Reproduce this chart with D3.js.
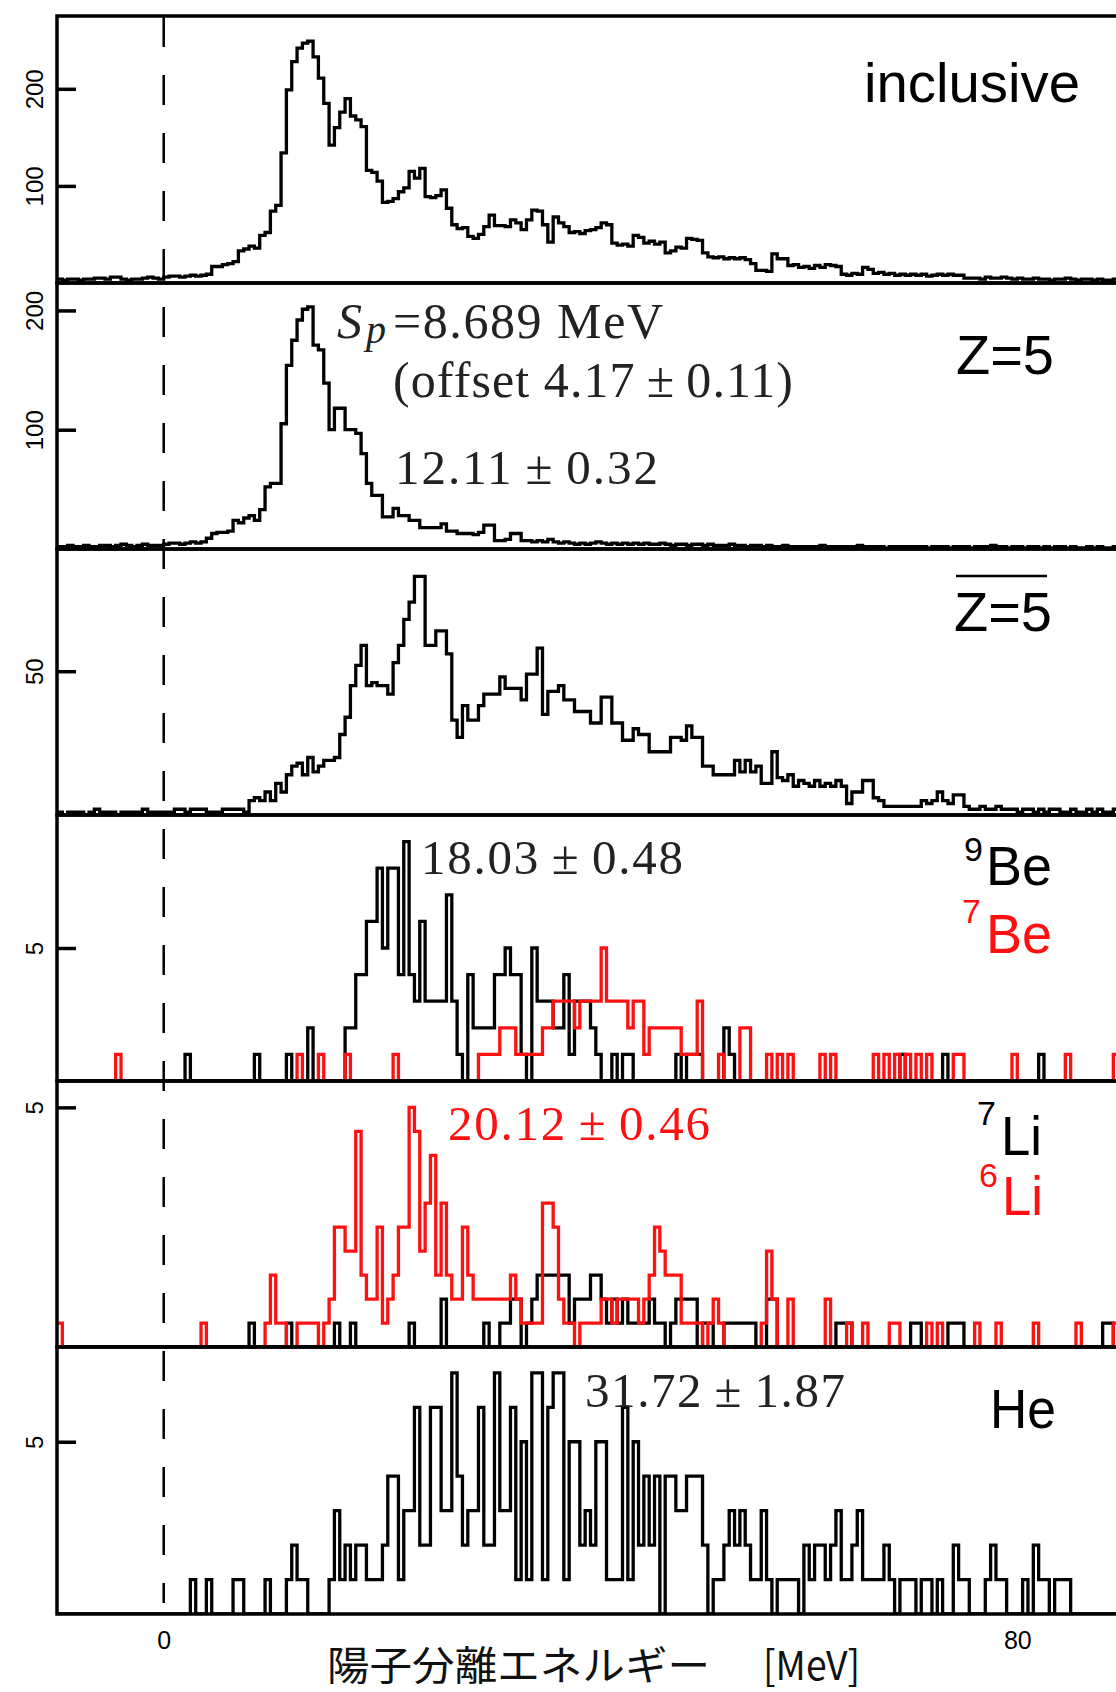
<!DOCTYPE html>
<html>
<head>
<meta charset="utf-8">
<script src="https://cdn.jsdelivr.net/npm/d3@7"></script>
<style>
  html, body { margin: 0; padding: 0; background: #fff; }
  svg { display: block; }
</style>
</head>
<body>
<svg id="chart" width="1116" height="1692"></svg>
<script>
// Proton separation energy spectra, 0.5 MeV bins starting at -10 MeV.
const eMin = -10;
const binWidth = 0.5;

const inclusive = [
  4,3,4,4,3,4,4,5,5,4,6,6,4,3,4,4,5,6,5,4,
  6,7,7,6,7,8,7,8,9,17,17,19,20,22,33,35,38,36,49,52,
  74,80,134,199,228,242,247,249,233,211,185,142,160,176,190,172,168,161,116,114,
  105,83,84,87,94,98,115,108,118,89,88,90,96,77,60,56,57,48,46,50,
  58,70,59,59,58,65,62,55,65,75,74,60,42,68,62,58,52,53,51,54,
  55,57,62,60,41,39,40,38,49,47,41,43,40,42,31,33,37,36,46,45,
  44,31,27,26,27,25,26,25,26,24,20,13,13,12,30,25,25,18,19,16,
  17,15,18,16,19,18,17,9,8,10,9,16,14,10,11,9,10,8,9,8,
  9,8,9,7,8,9,8,9,8,8,5,5,5,4,6,5,5,6,5,4,
  5,4,4,5,4,4,3,4,4,5,4,3,4,4,3,4,3,3,4,3
];

const z5 = [
  2,2,3,2,2,3,2,2,3,3,2,3,4,3,2,3,4,3,3,3,
  4,5,5,4,5,6,5,6,9,13,14,14,15,24,22,26,28,24,33,52,
  55,55,105,154,175,192,201,203,171,167,139,100,118,118,100,100,97,80,55,45,
  45,27,27,34,28,28,24,24,18,18,18,18,21,15,15,13,13,13,12,14,
  20,20,7,7,8,13,13,7,7,6,7,6,8,6,5,6,5,4,5,4,
  5,6,5,4,5,4,5,4,5,4,5,4,4,5,4,3,4,4,3,4,
  4,3,4,3,3,3,4,3,3,2,3,3,2,3,2,2,3,2,2,2,
  2,2,2,3,2,2,2,2,2,2,3,2,2,2,2,1,2,2,2,2,
  2,2,2,1,2,2,2,1,2,2,2,1,2,2,2,3,2,2,1,2,
  2,1,2,2,1,2,1,2,2,1,2,1,1,2,1,2,1,1,2,1
];

const notZ5 = [
  1,0,1,1,1,0,1,2,1,1,1,0,1,1,1,1,2,1,1,1,
  1,1,2,2,1,2,2,2,1,1,1,2,2,2,2,1,5,6,5,8,
  5,11,8,14,17,18,14,20,15,17,19,19,20,28,34,45,52,59,45,46,
  45,45,42,53,59,68,74,83,83,59,59,64,64,56,33,27,38,33,33,38,
  42,42,42,48,44,44,44,40,49,49,58,35,43,43,45,40,40,36,36,36,
  32,32,41,41,32,32,26,26,30,28,28,22,22,22,22,27,27,26,31,27,
  27,17,17,14,14,14,14,19,15,19,15,17,11,11,22,13,12,14,10,12,
  11,10,12,10,11,10,12,10,4,8,8,12,12,6,5,3,3,3,3,3,
  3,3,5,4,5,8,5,4,7,7,3,2,2,3,2,2,3,2,2,2,
  1,2,2,1,2,1,2,2,1,1,2,1,1,2,1,2,1,1,2,1
];

const be9 = [
  0,0,0,0,0,0,0,0,0,0,0,0,0,0,0,0,0,0,0,0,
  0,0,0,0,1,0,0,0,0,0,0,0,0,0,0,0,0,1,0,0,
  0,0,0,1,0,0,0,2,0,0,0,0,0,0,2,2,4,4,6,6,
  8,5,8,8,4,9,4,3,6,3,3,3,3,7,3,1,0,4,2,2,
  2,2,4,4,5,4,4,1,0,5,3,3,3,2,2,4,1,3,3,3,
  2,1,0,0,1,0,1,1,0,0,0,0,0,0,0,0,1,0,1,1,
  1,0,0,0,0,2,1,0,0,0,0,0,0,0,0,0,0,0,0,0,
  0,0,0,0,0,0,0,0,0,0,0,0,0,0,0,0,0,0,1,0,
  0,0,0,0,0,0,1,0,0,0,0,0,0,0,0,0,0,0,0,0,
  0,0,0,0,1,0,0,0,0,0,0,0,0,0,0,0,0,0,0,0
];

const be7 = [
  0,0,0,0,0,0,0,0,0,0,0,1,0,0,0,0,0,0,0,0,
  0,0,0,0,0,0,0,0,0,0,0,0,0,0,0,0,0,0,0,0,
  0,0,0,0,0,1,0,0,0,1,0,0,0,0,1,0,0,0,0,0,
  0,0,0,1,0,0,0,0,0,0,0,0,0,0,0,0,0,0,0,1,
  1,1,1,2,2,2,1,1,1,1,1,2,2,3,3,3,3,2,3,3,
  3,3,5,3,3,3,3,2,3,3,1,2,2,2,2,2,2,1,1,1,
  3,0,0,0,1,0,0,0,2,2,0,0,0,1,0,1,0,1,0,0,
  0,0,0,1,0,1,0,0,0,0,0,0,0,1,0,1,0,1,0,1,
  0,1,0,1,0,0,0,0,1,1,0,0,0,0,0,0,0,0,0,1,
  0,0,0,0,0,0,0,0,0,1,0,0,0,0,0,0,0,0,1,0
];

const li7 = [
  0,0,0,0,0,0,0,0,0,0,0,0,0,0,0,0,0,0,0,0,
  0,0,0,0,0,0,0,0,0,0,0,0,0,0,0,0,0.5,0,0,0,
  0,0,0,0.5,0,0,0,0,0,0,0,0,0.5,0,0,0.5,0,0,0,0,
  0,0,0,0,0,0,0.5,0,0,0,0,0,1,0,0,0,0,0,0,0,
  0.5,0,0,0.5,0.5,1,1,0,0.5,1,1.5,1.5,1.5,1.5,1.5,1.5,0.5,1,1,1,
  1.5,1.5,1,0.5,1,0.5,1,0.5,0.5,0.5,0.5,1,0.5,0.5,0,0.5,1,1,1,1,
  0,0.5,0.5,0,0,0.5,0.5,0.5,0.5,0.5,0.5,0,0,1,1,0,0,0,0,0,
  0,0,0,0,0,0,0.5,0.5,0.5,0,0,0,0,0,0,0,0,0,0,0,
  0.5,0.5,0,0,0,0,0,0.5,0.5,0.5,0,0,0,0,0,0,0,0,0,0,
  0,0,0,0,0,0,0,0,0,0,0,0,0,0,0,0,0.5,0.5,0,0
];

const li6 = [
  0.5,0,0,0,0,0,0,0,0,0,0,0,0,0,0,0,0,0,0,0,
  0,0,0,0,0,0,0,0.5,0,0,0,0,0,0,0,0,0,0,0,0.5,
  1.5,0.5,0.5,0,0,0.5,0.5,0.5,0.5,0,0.5,1,2.5,2.5,2,2,4.5,1.5,1,1,
  2.5,0.5,1,1.5,2.5,2.5,5,4.5,2,3,4,1.5,3,1.5,1,1,2.5,1.5,1,1,
  1,1,1,1,1,1.5,1,0.5,0.5,0.5,0.5,3,3,2.5,1,0.5,0.5,0,0.5,0.5,
  0.5,0.5,1,1,0.5,1,1,1,1,0.5,1,1.5,2.5,2,1.5,1.5,1.5,0.5,0.5,0.5,
  0.5,0,0.5,1,0.5,0,0,0,0,0,0,0,0.5,2,1,0,0,1,0,0,
  0,0,0,0,1,0,0,0,0.5,0,0,0.5,0,0,0,0,0.5,0.5,0,0,
  0,0,0,0.5,0,0.5,0,0,0,0,0,0,0.5,0,0,0,0.5,0,0,0,
  0,0,0,0.5,0,0,0,0,0,0,0,0.5,0,0,0,0,0,0,0.5,0
];

const he = [
  0,0,0,0,0,0,0,0,0,0,0,0,0,0,0,0,0,0,0,0,
  0,0,0,0,0,1,0,0,1,0,0,0,0,1,1,0,0,0,0,1,
  0,0,0,1,2,1,1,0,0,0,0,1,3,1,2,1,2,2,1,1,
  1,2,4,4,1,3,3,6,2,2,6,6,3,3,7,4,2,3,3,6,
  2,2,7,3,3,6,1,5,1,7,7,1,6,7,7,1,5,5,2,3,
  2,5,5,1,1,1,6,1,5,2,4,2,4,0,4,4,3,3,4,4,
  4,2,0,1,1,2,3,2,3,2,1,1,3,1,0,1,1,1,1,0,
  2,1,2,2,1,2,3,1,1,2,3,1,1,1,1,2,1,0,1,1,
  1,0,1,1,0,1,0,0,2,1,1,0,0,0,1,2,1,1,0,0,
  0,1,0,2,1,1,0,1,1,1,0,0,0,0,0,0,0,0,0,0
];

// Axis tick values
const yTickValues = [[100, 200], [100, 200], [50], [5], [5], [5]];
const xTickValues = [0, 80];
const yMax = [275, 223, 92.5, 10, 5.55, 7.75];

const BLACK = "#000";
const RED = "#ff1010";
const SANS = "'Liberation Sans', Arial, Helvetica, sans-serif";
const SERIF = "'Liberation Serif', 'Times New Roman', serif";
const CJK = "'Noto Sans CJK JP', 'Noto Sans CJK SC', sans-serif";

const svg = d3.select("#chart");
svg.append("rect").attr("width", 1116).attr("height", 1692).attr("fill", "#fff");

const x = d3.scaleLinear().domain([-10, 90]).range([57, 1124]);
const panelEdges = [16, 283, 549, 815, 1081, 1347, 1614];

const panelSeries = [
  [{ data: inclusive, color: BLACK }],
  [{ data: z5, color: BLACK }],
  [{ data: notZ5, color: BLACK }],
  [{ data: be9, color: BLACK }, { data: be7, color: RED }],
  [{ data: li7, color: BLACK }, { data: li6, color: RED }],
  [{ data: he, color: BLACK }]
];

const defs = svg.append("defs");

panelSeries.forEach((series, p) => {
  const top = panelEdges[p], bottom = panelEdges[p + 1];
  const y = d3.scaleLinear().domain([0, yMax[p]]).range([bottom, top]);

  const clipId = "clip" + p;
  defs.append("clipPath").attr("id", clipId)
    .append("rect")
    .attr("x", x(-10)).attr("y", top)
    .attr("width", x(90) - x(-10)).attr("height", bottom - top);

  const g = svg.append("g").attr("clip-path", `url(#${clipId})`);
  const line = d3.line()
    .x(d => x(d[0]))
    .y(d => y(d[1]))
    .curve(d3.curveStepAfter);

  series.forEach(s => {
    const pts = s.data.map((v, i) => [eMin + i * binWidth, v]);
    pts.push([eMin + s.data.length * binWidth, s.data[s.data.length - 1]]);
    g.append("path")
      .attr("d", line(pts))
      .attr("fill", "none")
      .attr("stroke", s.color)
      .attr("stroke-width", 3.3)
      .attr("stroke-linejoin", "miter");
  });

  // left axis with inward ticks and rotated labels
  const ax = svg.append("g")
    .attr("transform", `translate(${x(-10)},0)`)
    .call(d3.axisLeft(y).tickValues(yTickValues[p]).tickSizeInner(-19).tickSizeOuter(0)
      .tickPadding(0).tickFormat(d3.format("d")));
  ax.select(".domain").remove();
  ax.selectAll(".tick line").attr("stroke", BLACK).attr("stroke-width", 3.5);
  ax.selectAll(".tick text")
    .attr("x", 0).attr("dy", "0.36em")
    .attr("transform", "translate(-23,0) rotate(-90)")
    .attr("text-anchor", "middle")
    .attr("font-family", SANS)
    .attr("font-size", 24)
    .attr("fill", BLACK);

  // panel frame
  svg.append("rect")
    .attr("x", x(-10)).attr("y", top)
    .attr("width", x(90) - x(-10)).attr("height", bottom - top)
    .attr("fill", "none").attr("stroke", BLACK).attr("stroke-width", 3.5);
});

// zero-energy reference line
svg.append("line")
  .attr("x1", x(0)).attr("x2", x(0))
  .attr("y1", 17).attr("y2", 1603)
  .attr("stroke", BLACK).attr("stroke-width", 2.5)
  .attr("stroke-dasharray", "30,28");

// bottom axis labels
const bx = svg.append("g")
  .attr("transform", `translate(0,${panelEdges[6]})`)
  .call(d3.axisBottom(x).tickValues(xTickValues).tickSize(0).tickPadding(17).tickFormat(d3.format("d")));
bx.select(".domain").remove();
bx.selectAll(".tick text").attr("font-family", SANS).attr("font-size", 25).attr("fill", BLACK);

// x-axis title
svg.append("text")
  .attr("x", 327).attr("y", 1680)
  .attr("font-family", CJK).attr("font-size", 40)
  .attr("textLength", 383).attr("lengthAdjust", "spacingAndGlyphs")
  .attr("fill", "#111")
  .text("陽子分離エネルギー");
svg.append("text")
  .attr("x", 763).attr("y", 1680)
  .attr("font-family", CJK).attr("font-size", 40)
  .attr("textLength", 97).attr("lengthAdjust", "spacingAndGlyphs")
  .attr("fill", "#111")
  .text("[MeV]");

// panel labels
function label(txt, xx, yy, size, color, w) {
  const t = svg.append("text")
    .attr("x", xx).attr("y", yy)
    .attr("font-family", SANS).attr("font-size", size)
    .attr("fill", color).text(txt);
  if (w) t.attr("textLength", w).attr("lengthAdjust", "spacingAndGlyphs");
  return t;
}
label("inclusive", 864, 102, 55, BLACK, 216);
label("Z=5", 956, 374, 56, BLACK, 98);
label("Z=5", 954, 631, 56, BLACK, 98);
svg.append("line")
  .attr("x1", 956).attr("x2", 1047).attr("y1", 576).attr("y2", 576)
  .attr("stroke", BLACK).attr("stroke-width", 2.5);
label("9", 964, 861, 34, BLACK);
label("Be", 986, 885, 55, BLACK, 66);
label("7", 962, 923, 34, RED);
label("Be", 986, 953, 55, RED, 66);
label("7", 977, 1125, 34, BLACK);
label("Li", 1001, 1155, 55, BLACK, 41);
label("6", 979, 1187, 34, RED);
label("Li", 1002, 1215, 55, RED, 41);
label("He", 990, 1428, 55, BLACK, 66);

// fit annotations
function serif(txt, xx, yy, size, color, w, italic) {
  const t = svg.append("text")
    .attr("x", xx).attr("y", yy)
    .attr("font-family", SERIF).attr("font-size", size)
    .attr("fill", color).text(txt);
  if (w) t.attr("textLength", w).attr("lengthAdjust", "spacing");
  if (italic) t.attr("font-style", "italic");
  return t;
}
const pm = "\u2009\u00b1\u2009";
serif("S", 337, 338, 50, "#222", null, true);
serif("p", 366, 343, 40, "#222", null, true);
serif("=8.689 MeV", 393, 338, 50, "#222", 270);
serif("(offset 4.17" + pm + "0.11)", 393, 397, 50, "#222", 400);
serif("12.11" + pm + "0.32", 395, 484, 49, "#222", 263);
serif("18.03" + pm + "0.48", 421, 874, 49, "#222", 262);
serif("20.12" + pm + "0.46", 448, 1140, 49, RED, 262);
serif("31.72" + pm + "1.87", 585, 1407, 49, "#222", 260);
</script>
</body>
</html>
